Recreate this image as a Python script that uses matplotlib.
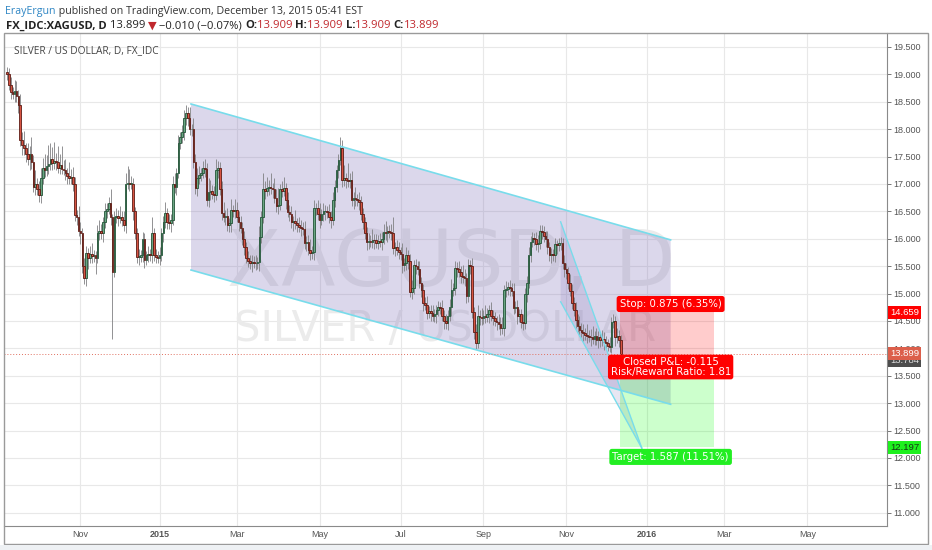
import matplotlib
matplotlib.use("Agg")
import matplotlib.pyplot as plt
from matplotlib.patches import Polygon, Rectangle
import numpy as np
import pandas as pd

# daily closes, FX_IDC:XAGUSD, 2014-09-09 .. 2015-12-11
closes = [
    19.0, 18.8, 18.67, 18.65, 18.7, 18.6, 18.45, 17.8, 17.72, 17.65,
    17.55, 17.45, 17.55, 17.4, 16.95, 17.0, 16.9, 16.8, 17.1, 17.29,
    17.25, 17.33, 17.36, 17.45, 17.38, 17.42, 17.4, 17.3, 17.35, 17.28,
    17.26, 17.2, 17.15, 17.1, 17.13, 17.0, 16.43, 16.4, 16.15, 16.1,
    15.5, 15.28, 15.74, 15.65, 15.72, 15.68, 15.7, 15.65, 16.1, 16.15,
    16.1, 16.3, 16.5, 16.55, 16.65, 16.4, 15.4, 16.4, 16.42, 16.38,
    16.4, 16.35, 16.25, 17.0, 17.02, 17.0, 17.0, 16.5, 16.1, 15.67,
    15.67, 15.7, 16.0, 15.62, 15.7, 15.72, 15.7, 16.1, 15.7, 15.67,
    15.65, 15.7, 16.1, 16.3, 16.47, 16.3, 16.28, 16.35, 17.0, 16.95,
    17.2, 17.75, 17.85, 17.95, 18.2, 18.3, 18.2, 18.0, 18.0, 17.4,
    16.93, 17.1, 17.17, 17.2, 17.3, 17.28, 16.7, 16.85, 16.88, 16.82,
    16.8, 17.25, 17.3, 16.9, 16.47, 16.4, 16.42, 16.25, 16.28, 16.52,
    16.5, 16.52, 16.4, 16.3, 16.2, 16.0, 15.85, 15.65, 15.6, 15.55,
    15.58, 15.56, 15.55, 15.57, 16.03, 16.4, 16.9, 16.88, 16.92, 16.95,
    16.92, 16.9, 16.75, 16.6, 16.62, 16.9, 16.88, 16.92, 16.7, 16.49,
    16.45, 16.3, 16.32, 16.28, 16.25, 16.22, 16.2, 16.18, 15.92, 15.95,
    15.8, 15.74, 15.76, 16.56, 16.56, 16.45, 16.35, 16.45, 16.5, 16.5,
    16.48, 16.4, 16.35, 16.7, 16.95, 17.25, 17.44, 17.65, 17.07, 17.1,
    17.08, 17.05, 17.08, 16.7, 16.75, 16.72, 16.7, 16.68, 16.45, 16.3,
    16.1, 15.94, 15.96, 15.95, 15.98, 15.97, 15.93, 15.96, 15.95, 16.0,
    16.12, 16.1, 16.14, 16.12, 16.1, 15.83, 15.85, 15.8, 15.75, 15.72,
    15.52, 15.55, 15.7, 15.6, 15.03, 15.1, 15.52, 15.5, 15.45, 15.2,
    15.06, 14.83, 14.8, 14.65, 14.68, 14.65, 14.6, 14.62, 14.7, 14.75,
    14.74, 14.6, 14.5, 14.46, 14.6, 14.75, 15.06, 15.1, 15.47, 15.45,
    15.4, 15.32, 15.3, 15.28, 14.95, 15.52, 15.5, 14.66, 14.3, 14.1,
    14.6, 14.58, 14.55, 14.6, 14.58, 14.62, 14.7, 14.6, 14.55, 14.5,
    14.48, 14.45, 14.37, 14.38, 15.06, 15.08, 15.12, 15.1, 15.05, 14.74,
    14.76, 14.6, 14.62, 14.48, 14.46, 15.0, 15.2, 15.7, 15.95, 16.01,
    16.0, 15.9, 15.92, 16.15, 16.12, 16.05, 16.0, 15.85, 15.7, 15.72,
    15.7, 15.9, 15.88, 15.92, 15.92, 15.55, 15.45, 15.37, 15.2, 15.05,
    14.83, 14.7, 14.52, 14.4, 14.34, 14.3, 14.28, 14.25, 14.22, 14.21,
    14.2, 14.18, 14.22, 14.16, 14.2, 14.15, 14.18, 14.12, 14.1, 14.05,
    14.03, 14.48, 14.5, 14.2, 14.22, 14.15, 13.899,
]
first_open = 19.05

# wick lengths above / below the candle body
wick_hi = [
    .08, .12, .15, .1, .2, .18, .12, .2, .15, .25,
    .1, .2, .15, .3, .12, .25, .1, .15, .2, .18,
    .25, .2, .35, .3, .22, .35, .15, .3, .2, .35,
    .15, .2, .1, .25, .15, .18, .12, .1, .2, .15,
    .1, .15, .12, .1, .15, .2, .1, .08, .15, .2,
    .12, .1, .15, .1, .12, .25, .05, .1, .15, .1,
    .2, .1, .15, .2, .3, .25, .15, .1, .08, .1,
    .15, .1, .12, .1, .08, .15, .1, .3, .1, .12,
    .1, .15, .1, .12, .2, .1, .15, .1, .15, .2,
    .1, .15, .1, .12, .15, .15, .1, .2, .1, .2,
    .15, .2, .15, .1, .12, .15, .1, .25, .2, .1,
    .15, .2, .12, .1, .15, .2, .1, .15, .1, .2,
    .1, .2, .15, .1, .12, .1, .15, .1, .12, .1,
    .12, .1, .15, .1, .2, .1, .3, .15, .2, .12,
    .25, .1, .2, .15, .3, .1, .15, .2, .1, .15,
    .12, .15, .1, .2, .1, .15, .12, .1, .15, .1,
    .12, .2, .1, .15, .1, .15, .2, .1, .15, .12,
    .1, .15, .1, .15, .12, .1, .1, .2, .15, .25,
    .1, .3, .12, .15, .1, .2, .1, .15, .1, .12,
    .1, .12, .15, .1, .2, .1, .12, .1, .15, .12,
    .15, .2, .1, .12, .15, .3, .1, .12, .15, .1,
    .2, .1, .15, .1, .12, .15, .1, .12, .1, .15,
    .1, .12, .1, .15, .1, .12, .15, .1, .1, .12,
    .1, .15, .1, .12, .1, .15, .2, .1, .12, .1,
    .15, .1, .2, .15, .1, .12, .1, .15, .1, .15,
    .2, .1, .15, .1, .2, .12, .1, .15, .1, .12,
    .1, .15, .12, .2, .1, .15, .1, .12, .1, .15,
    .1, .12, .1, .1, .15, .1, .12, .15, .1, .12,
    .1, .12, .15, .1, .1, .12, .1, .15, .1, .12,
    .1, .12, .08, .1, .12, .1, .15, .1, .12, .15,
    .12, .1, .15, .1, .2, .12, .15, .1, .2, .12,
    .15, .2, .1, .15, .12, .1, .15, .12, .1, .08,
    .15, .1, .12, .1, .15, .12, .1,
]
wick_lo = [
    .1, .08, .12, .1, .15, .1, .15, .1, .2, .12,
    .15, .1, .2, .12, .1, .15, .1, .12, .15, .1,
    .12, .1, .15, .1, .12, .1, .15, .1, .12, .1,
    .1, .12, .15, .1, .1, .12, .1, .15, .1, .2,
    .12, .1, .15, .2, .1, .12, .1, .3, .1, .12,
    .1, .15, .1, .12, .1, .15, 1.22, .1, .12, .15,
    .1, .12, .1, .15, .1, .12, .1, .15, .1, .12,
    .15, .1, .12, .15, .1, .12, .1, .15, .1, .12,
    .1, .12, .1, .15, .1, .12, .1, .15, .1, .12,
    .15, .1, .12, .1, .15, .12, .15, .1, .12, .1,
    .12, .15, .1, .12, .1, .15, .1, .12, .15, .1,
    .12, .1, .15, .1, .12, .1, .15, .1, .12, .15,
    .1, .12, .1, .15, .1, .12, .15, .1, .12, .1,
    .15, .1, .12, .1, .15, .1, .12, .15, .1, .12,
    .1, .15, .1, .12, .15, .1, .12, .1, .15, .1,
    .12, .1, .15, .1, .12, .1, .15, .12, .1, .15,
    .1, .12, .1, .15, .12, .1, .15, .1, .12, .15,
    .1, .12, .15, .1, .12, .1, .15, .1, .12, .1,
    .15, .1, .12, .1, .15, .12, .1, .15, .1, .12,
    .1, .15, .12, .1, .12, .15, .1, .12, .1, .15,
    .1, .12, .15, .1, .12, .1, .15, .1, .12, .1,
    .15, .1, .12, .15, .1, .12, .1, .15, .12, .1,
    .12, .15, .1, .12, .1, .15, .1, .12, .15, .1,
    .12, .1, .15, .1, .12, .1, .15, .1, .12, .15,
    .1, .12, .1, .15, .12, .1, .15, .1, .12, .12,
    .1, .15, .12, .1, .12, .1, .15, .1, .12, .1,
    .15, .1, .12, .1, .15, .12, .1, .15, .1, .12,
    .1, .15, .12, .1, .12, .1, .15, .1, .12, .1,
    .12, .1, .15, .1, .12, .1, .15, .12, .1, .15,
    .1, .12, .15, .1, .12, .1, .15, .1, .12, .1,
    .12, .1, .15, .1, .12, .1, .15, .1, .12, .1,
    .15, .1, .12, .1, .15, .12, .1, .15, .12, .1,
    .1, .12, .1, .15, .1, .12, .1,
]

holidays = ["2014-12-25", "2015-01-01", "2015-12-25", "2016-01-01"]
tick_months = ["2014-11", "2015-01", "2015-03", "2015-05", "2015-07", "2015-09",
               "2015-11", "2016-01", "2016-03", "2016-05"]
tick_labels = ["Nov", "2015", "Mar", "May", "Jul", "Sep", "Nov", "2016", "Mar", "May"]
price_ticks = np.arange(11.0, 19.51, 0.5)

# drawings (bar index, price)
channel_x = [97.7, 352.4]
channel_top = [18.46, 15.98]
channel_bot = [15.43, 12.98]
wedge = [(294.0, 16.31), (337.1, 12.18), (294.0, 14.85)]
pos_x = [325.5, 375.5]
entry, stop, target = 13.784, 14.659, 12.197
last_price = 13.899

W, H = 932, 550
fig = plt.figure(figsize=(W / 100, H / 100), dpi=100)
fig.patch.set_facecolor("white")
ax = fig.add_axes([4 / W, 24 / H, 883 / W, 493 / H])

bars = pd.bdate_range("2014-09-09", "2016-07-29", freq="C", holidays=holidays)
n = len(closes)
xs = np.arange(n)
c = np.array(closes)
o = np.concatenate([[first_open], c[:-1]])
top = np.maximum(o, c)
bot = np.minimum(o, c)
hi = top + np.array(wick_hi)
lo = bot - np.array(wick_lo)
up = c >= o

ax.vlines(xs, lo, hi, color="#808082", lw=0.6, zorder=3)
ax.bar(xs[up], np.maximum(top - bot, 0.01)[up], bottom=bot[up], width=0.85,
       color="#6ba583", edgecolor="#225437", linewidth=0.6, zorder=4)
ax.bar(xs[~up], np.maximum(top - bot, 0.01)[~up], bottom=bot[~up], width=0.85,
       color="#d75442", edgecolor="#5b1a13", linewidth=0.6, zorder=4)

# watermark
ax.text(0.507, 0.531, "XAGUSD, D", transform=ax.transAxes, ha="center", va="center",
        fontsize=57, color="#ebebeb", zorder=1)
ax.text(0.4995, 0.40, "SILVER / US DOLLAR", transform=ax.transAxes, ha="center",
        va="center", fontsize=30, color="#ebebeb", zorder=1)

# falling channel + wedge
purple = (118 / 255, 102 / 255, 178 / 255)
cyan = "#78dceb"
ax.add_patch(Polygon([(channel_x[0], channel_top[0]), (channel_x[1], channel_top[1]),
                      (channel_x[1], channel_bot[1]), (channel_x[0], channel_bot[0])],
                     closed=True, facecolor=purple, alpha=0.26, edgecolor="none", zorder=2))
ax.plot(channel_x, channel_top, color=cyan, lw=1.2, zorder=5)
ax.plot(channel_x, channel_bot, color=cyan, lw=1.2, zorder=5)
ax.add_patch(Polygon(wedge, closed=True, facecolor=purple, alpha=0.16,
                     edgecolor="none", zorder=2))
ax.plot([wedge[0][0], wedge[1][0]], [wedge[0][1], wedge[1][1]], color=cyan, lw=1.0, zorder=5)
ax.plot([wedge[2][0], wedge[1][0]], [wedge[2][1], wedge[1][1]], color=cyan, lw=1.0, zorder=5)

# short position tool
ax.add_patch(Rectangle((pos_x[0], entry), pos_x[1] - pos_x[0], stop - entry,
                       facecolor="#ff0000", alpha=0.2, edgecolor="none", zorder=2))
ax.add_patch(Rectangle((pos_x[0], target), pos_x[1] - pos_x[0], entry - target,
                       facecolor="#00ff00", alpha=0.2, edgecolor="none", zorder=2))
lab_x = 352.4
lab = dict(ha="center", va="center", color="white", fontsize=7.3, zorder=7)
ax.text(lab_x, 14.81, "Stop: 0.875 (6.35%)",
        bbox=dict(boxstyle="round,pad=0.3,rounding_size=0.25", fc="#ff0000", ec="none"), **lab)
ax.text(lab_x, 13.66, "Closed P&L: -0.115\nRisk/Reward Ratio: 1.81", linespacing=0.95,
        bbox=dict(boxstyle="round,pad=0.25,rounding_size=0.25", fc="#ff0000", ec="none"), **lab)
ax.text(lab_x, 12.02, "Target: 1.587 (11.51%)",
        bbox=dict(boxstyle="round,pad=0.3,rounding_size=0.25", fc="#22ee22", ec="none"), **lab)

ax.axhline(last_price, color="#e07060", lw=0.7, ls=(0, (1, 2)), zorder=5)

# axes
ax.set_xlim(-1.6, 467.3)
ax.set_ylim(10.759, 19.755)
tick_pos = [int(np.argmax(bars >= pd.Timestamp(m + "-01"))) for m in tick_months]
ax.set_xticks(tick_pos)
ax.set_xticklabels(tick_labels)
for t, l in zip(ax.get_xticklabels(), tick_labels):
    if l.isdigit():
        t.set_fontweight("bold")
ax.tick_params(axis="x", length=0, pad=3, labelsize=6.5, labelcolor="#555555")
ax.yaxis.tick_right()
ax.set_yticks(price_ticks)
ax.set_yticklabels([f"{v:.3f}" for v in price_ticks])
ax.tick_params(axis="y", length=3, width=0.7, color="#777777", pad=1.5,
               labelsize=6.5, labelcolor="#555555")
for lbl in ax.get_xticklabels() + ax.get_yticklabels():
    lbl.set_fontfamily("Liberation Sans")
ax.grid(True, color="#e8e8e8", lw=0.8, zorder=0)
ax.set_axisbelow(True)
for s in ["left", "top"]:
    ax.spines[s].set_visible(False)
ax.spines["right"].set_color("#8a8a8a")
ax.spines["bottom"].set_color("#8a8a8a")

# price labels on the axis
def axis_tag(price, text, fc, tc):
    ax.annotate(text, xy=(1, price), xycoords=("axes fraction", "data"),
                xytext=(3, 0), textcoords="offset pixels", ha="left", va="center",
                fontsize=6.8, color=tc, family="Liberation Sans", annotation_clip=False,
                bbox=dict(boxstyle="square,pad=0.22", fc=fc, ec="none"), zorder=8)

axis_tag(stop, "14.659", "#ff0000", "white")
axis_tag(entry, "13.784", "#4d4d4d", "#dddddd")
axis_tag(last_price, "13.899", "#dc5f4b", "white")
axis_tag(target, "12.197", "#1ef01e", "#143814")

ax.text(0.011, 0.965, "SILVER / US DOLLAR, D, FX_IDC", transform=ax.transAxes,
        fontsize=7.3, color="#444444", family="Open Sans", va="center")

# frame and bottom strip
fig.add_artist(Rectangle((4 / W, 6 / H), 924 / W, 511 / H, transform=fig.transFigure,
                         fill=False, edgecolor="#9a9a9a", lw=1))
fig.add_artist(Rectangle((0, 0), 1, 5.5 / H, transform=fig.transFigure,
                         facecolor="#eef1f4", edgecolor="none"))

# header lines
renderer = fig.canvas.get_renderer()
fam = ["Open Sans", "DejaVu Sans"]


def chain(x_px, y_px, parts, size):
    for txt, color, weight in parts:
        t = fig.text(x_px / W, 1 - y_px / H, txt, color=color, fontweight=weight,
                     fontsize=size, family=fam, va="baseline")
        x_px += t.get_window_extent(renderer).width


dark, red = "#222222", "#c0282d"
chain(5, 14, [("ErayErgun", "#2f86c4", "normal"),
              (" published on TradingView.com, December 13, 2015 05:41 EST", "#333333", "normal")],
      7.7)
chain(6, 28.5, [("FX_IDC:XAGUSD, D", dark, "bold"), (" 13.899 ", dark, "normal"),
                ("\u25bc", red, "normal"), (" \u22120.010 (\u22120.07%) ", dark, "normal"),
                ("O:", dark, "bold"), ("13.909 ", red, "normal"),
                ("H:", dark, "bold"), ("13.909 ", red, "normal"),
                ("L:", dark, "bold"), ("13.909 ", red, "normal"),
                ("C:", dark, "bold"), ("13.899", red, "normal")], 8.1)

fig.savefig("out.png", dpi=100)
